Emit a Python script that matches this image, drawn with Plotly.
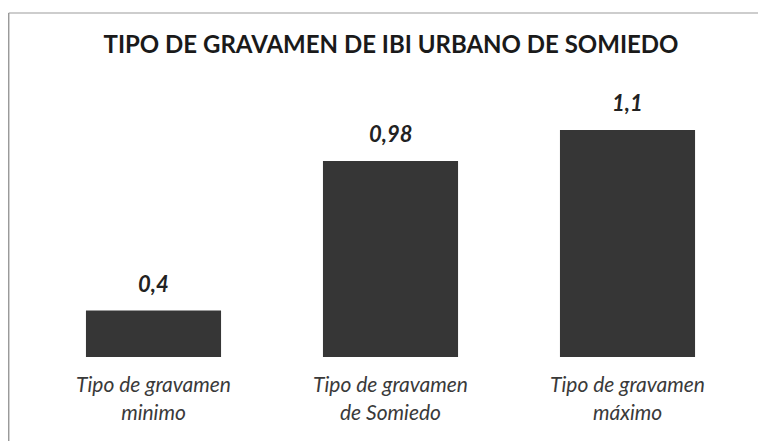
import plotly.graph_objects as go

categories = ["Tipo de gravamen<br>minimo", "Tipo de gravamen<br>de Somiedo", "Tipo de gravamen<br>máximo"]
values = [0.4, 0.98, 1.1]
value_labels = ["0,4", "0,98", "1,1"]

fig = go.Figure()
fig.add_trace(go.Bar(
    x=categories, y=values,
    marker=dict(color="#363636", line=dict(width=0)),
    width=0.57,
    hoverinfo="skip",
))

for c, v, t in zip(categories, values, value_labels):
    fig.add_annotation(
        x=c, y=v, text="<b><i>" + t + "</i></b>", showarrow=False,
        yanchor="bottom", yshift=12,
        font=dict(family="Lato", size=22, color="#222222"),
    )

# frame lines (top and left)
fig.add_shape(type="line", xref="paper", yref="paper",
              x0=-0.037, x1=1.05, y0=1.242, y1=1.242,
              line=dict(color="#bdbdbd", width=1.5))
fig.add_shape(type="line", xref="paper", yref="paper",
              x0=-0.037, x1=-0.037, y0=1.242, y1=-0.4,
              line=dict(color="#9a9a9a", width=1.5))

fig.update_layout(
    width=766, height=441,
    margin=dict(l=27, r=28, t=72, b=92),
    paper_bgcolor="white", plot_bgcolor="white",
    showlegend=False,
    title=dict(
        text="<b>TIPO DE GRAVAMEN DE IBI URBANO DE SOMIEDO</b>",
        x=0.5, xanchor="center", y=1 - 37 / 441, yanchor="middle",
        font=dict(family="Lato", size=24, color="#1a1a1a"),
    ),
    xaxis=dict(
        showgrid=False, showline=False, zeroline=False,
        ticks="outside", ticklen=9, tickcolor="rgba(0,0,0,0)",
        tickfont=dict(family="Lato", size=21, color="#3a3a3a", style="italic"),
    ),
    yaxis=dict(
        range=[0.22, 1.294], visible=False, showgrid=False, zeroline=False,
    ),
)

fig.write_html("out.html")
